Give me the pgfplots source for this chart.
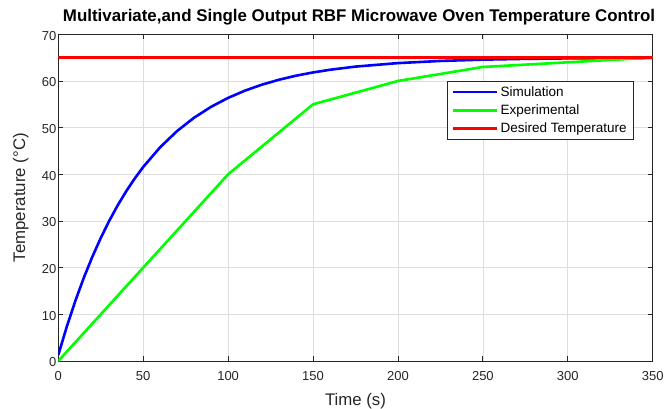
\documentclass[border=0pt]{standalone}
\usepackage{fontspec}
\setmainfont{Liberation Sans}
\usepackage{pgfplots}
\pgfplotsset{compat=1.18}
\definecolor{axgray}{gray}{0.15}
\definecolor{gridgray}{gray}{0.87}
\definecolor{simblue}{RGB}{0,0,255}
\definecolor{expgreen}{RGB}{0,255,0}
\definecolor{desred}{RGB}{255,0,0}
\begin{document}
\begin{tikzpicture}
\begin{axis}[
name=main,
scale only axis,
width=594.4bp, height=326.7bp,
xmin=0, xmax=350, ymin=0, ymax=70,
xtick={0,50,...,350}, ytick={0,10,...,70},
grid=major,
major grid style={gridgray, line width=0.6bp},
axis line style={axgray, line width=0.8bp},
tick style={axgray, line width=0.8bp},
major tick length=5bp,
/pgf/number format/assume math mode=true,
ticklabel style={font=\fontsize{13bp}{15bp}\selectfont, text=axgray},
xticklabel style={yshift=-7bp},
yticklabel style={xshift=1.5bp, yshift=-1.5bp},
xlabel={Time (s)},
ylabel={Temperature (°C)},
label style={font=\fontsize{16.8bp}{19bp}\selectfont, text=axgray},
xlabel style={at={(axis description cs:0.5,-0.1377)}, anchor=base},
ylabel style={at={(axis description cs:-0.056,0.5)}, anchor=base},
title={Multivariate,and Single Output RBF Microwave Oven Temperature Control},
title style={at={(axis description cs:0.506,1.0223)}, anchor=base,
  font=\bfseries\fontsize{16.9bp}{19bp}\selectfont},
legend style={at={(axis description cs:0.9676,0.857)}, anchor=north east,
  draw=axgray, line width=0.6bp, fill=white,
  font=\fontsize{13.5bp}{16bp}\selectfont,
  inner xsep=4.5bp, inner ysep=3bp, row sep=3bp},
legend cell align=left,
legend image code/.code={\draw[#1, line width=2.8bp] (0bp,0bp) -- (44bp,0bp);},
]

\addplot[simblue, line width=2.6bp] coordinates {
(0,1.3) (5,7.36) (10,12.85) (15,17.81) (20,22.30) (25,26.36) (30,30.04)
(35,33.37) (40,36.38) (45,39.10) (50,41.57) (60,45.81) (70,49.29)
(80,52.14) (90,54.47) (100,56.38) (110,57.94) (120,59.22) (130,60.27)
(140,61.13) (150,61.83) (160,62.40) (175,63.08) (200,63.83) (225,64.29)
(250,64.57) (275,64.74) (300,64.84) (325,64.90) (350,64.94)
};
\addlegendentry{Simulation}

\addplot[expgreen, line width=2.6bp] coordinates {
(0,0) (50,20) (100,40) (150,55) (200,60) (250,63) (300,64) (350,65)
};
\addlegendentry{Experimental}

\addplot[desred, line width=2.6bp] coordinates {
(0,65) (350,65)
};
\addlegendentry{Desired Temperature}

\end{axis}
\pgfresetboundingbox
\useasboundingbox ([xshift=-58.3bp,yshift=-48bp]main.south west)
  rectangle ([xshift=12.3bp,yshift=34.3bp]main.north east);
\end{tikzpicture}
\end{document}
